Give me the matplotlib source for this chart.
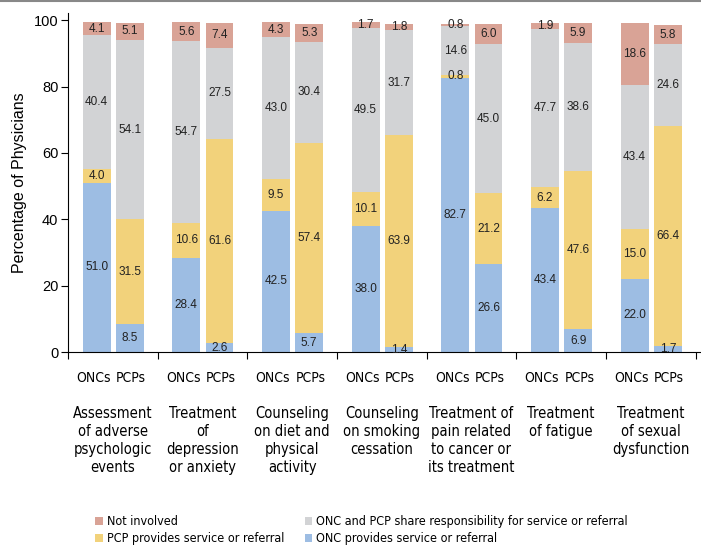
import numpy as np
import matplotlib
matplotlib.use('Agg')
import matplotlib.pyplot as plt
from matplotlib.lines import Line2D
from matplotlib.font_manager import FontProperties

# categories (one per group, ONCs and PCPs bars)
categories = ['Assessment\nof adverse\npsychologic\nevents',
              'Treatment\nof\ndepression\nor anxiety',
              'Counseling\non diet and\nphysical\nactivity',
              'Counseling\non smoking\ncessation',
              'Treatment of\npain related\nto cancer or\nits treatment',
              'Treatment\nof fatigue',
              'Treatment\nof sexual\ndysfunction']
bar_names = ['ONCs', 'PCPs']

# stacked from bottom: ONC provides, PCP provides, shared, not involved
onc_provides = {'ONCs': [51.0, 28.4, 42.5, 38.0, 82.7, 43.4, 22.0],
                'PCPs': [8.5, 2.6, 5.7, 1.4, 26.6, 6.9, 1.7]}
pcp_provides = {'ONCs': [4.0, 10.6, 9.5, 10.1, 0.8, 6.2, 15.0],
                'PCPs': [31.5, 61.6, 57.4, 63.9, 21.2, 47.6, 66.4]}
shared = {'ONCs': [40.4, 54.7, 43.0, 49.5, 14.6, 47.7, 43.4],
          'PCPs': [54.1, 27.5, 30.4, 31.7, 45.0, 38.6, 24.6]}
not_involved = {'ONCs': [4.1, 5.6, 4.3, 1.7, 0.8, 1.9, 18.6],
                'PCPs': [5.1, 7.4, 5.3, 1.8, 6.0, 5.9, 5.8]}

series = [('ONC provides service or referral', onc_provides, '#9dbde3'),
          ('PCP provides service or referral', pcp_provides, '#f2d27b'),
          ('ONC and PCP share responsibility for service or referral', shared, '#d2d3d5'),
          ('Not involved', not_involved, '#d9a396')]

plt.rcParams['font.family'] = ['Liberation Sans', 'DejaVu Sans']


def narrow(size):
    return FontProperties(family='DejaVu Sans', stretch='condensed', size=size)


fig = plt.figure(figsize=(7.01, 5.5), dpi=100)
ax = fig.add_axes([0.097, 0.36, 0.903, 0.616])

offsets = {'ONCs': 0.32, 'PCPs': 0.69}
label_offsets = {'ONCs': 0.285, 'PCPs': 0.705}
width = 0.31
groups = np.arange(len(categories))
handles = {}
for who in bar_names:
    xs = groups + offsets[who]
    bottom = np.zeros(len(categories))
    for name, data, color in series:
        vals = np.array(data[who])
        b = ax.bar(xs, vals, width, bottom=bottom, color=color, label=name)
        handles[name] = b
        for x, v, y0 in zip(xs, vals, bottom):
            ax.text(x, y0 + v / 2, f'{v:.1f}', ha='center', va='center',
                    fontsize=8.5, color='#222222')
        bottom = bottom + vals

ax.set_xlim(0, 7.06)
ax.set_ylim(0, 102.1)
ax.spines['top'].set_visible(False)
ax.spines['right'].set_visible(False)
ax.set_yticks(range(0, 101, 20))
ax.tick_params(axis='y', direction='out', length=5, labelsize=10.5, pad=2)
ax.set_xticks(range(0, 8))
ax.set_xticklabels([])
ax.tick_params(axis='x', which='major', direction='out', length=5)
minor_pos = np.concatenate([groups + label_offsets['ONCs'], groups + label_offsets['PCPs']])
minor_lab = ['ONCs'] * len(groups) + ['PCPs'] * len(groups)
ax.set_xticks(minor_pos, minor_lab, minor=True)
ax.tick_params(axis='x', which='minor', length=0, pad=14)
for lab in ax.get_xticklabels(minor=True):
    lab.set_fontproperties(narrow(10))
ax.set_ylabel('Percentage of Physicians', fontsize=11.5, labelpad=5)

for i, cat in enumerate(categories):
    ax.text(i + 0.5, -0.158, cat, transform=ax.get_xaxis_transform(),
            ha='center', va='top', fontproperties=narrow(10.5), linespacing=1.27)

leg_kw = dict(loc='upper left', frameon=False, prop=narrow(9),
              handlelength=0.6, handleheight=0.6, handletextpad=0.3,
              labelspacing=0.3, borderpad=0, borderaxespad=0)
fig.legend([handles['Not involved'], handles['PCP provides service or referral']],
           ['Not involved', 'PCP provides service or referral'],
           bbox_to_anchor=(0.136, 0.063), **leg_kw)
fig.legend([handles['ONC and PCP share responsibility for service or referral'],
            handles['ONC provides service or referral']],
           ['ONC and PCP share responsibility for service or referral',
            'ONC provides service or referral'],
           bbox_to_anchor=(0.435, 0.063), **leg_kw)

fig.add_artist(Line2D([0, 1], [0.998, 0.998], transform=fig.transFigure,
                      color='#888888', lw=1.5))

fig.savefig('out.png', dpi=100)
